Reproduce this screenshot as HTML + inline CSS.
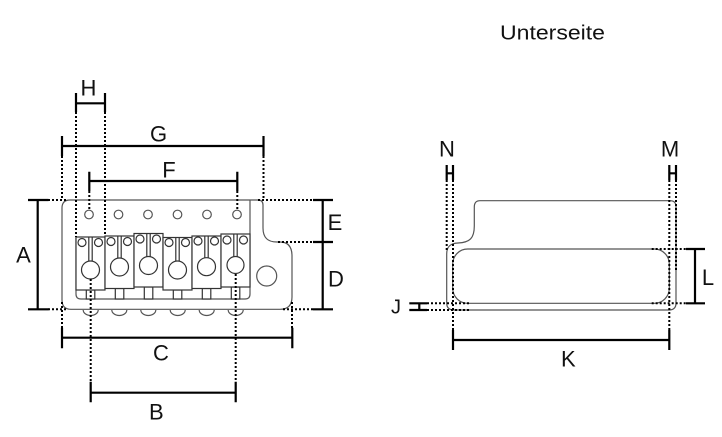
<!DOCTYPE html>
<html><head><meta charset="utf-8"><style>
html,body{margin:0;padding:0;background:#fff;}
svg{display:block;}
text{font-family:"Liberation Sans",Arial,sans-serif;fill:#111;}
</style></head><body>
<svg width="722" height="437" viewBox="0 0 722 437" xmlns="http://www.w3.org/2000/svg">
<rect width="722" height="437" fill="#fff"/>

<!-- ============ LEFT DRAWING ============ -->
<g fill="none" stroke="#555" stroke-width="1.2">
  <path d="M70,200 H258 Q263,200 263,205 V228 C263,238 268,242 277,242 H280 C288,242 292,247 292,256 V297 C292,305 288,309.3 280,309.3 H71 Q62,309.3 62,300 V208 Q62,200 70,200 Z"/>
  <path d="M76,236 V294 Q76,299 81,299 H245 Q250,299 250,294 V200"/>
  <circle cx="89" cy="214.5" r="4.3"/>
  <circle cx="118.5" cy="214.5" r="4.3"/>
  <circle cx="148" cy="214.5" r="4.3"/>
  <circle cx="177.5" cy="214.5" r="4.3"/>
  <circle cx="207" cy="214.5" r="4.3"/>
  <circle cx="237" cy="214.5" r="4.3"/>
  <circle cx="266.7" cy="276" r="10"/>
  <path d="M83.2,310 A7.5,5.5 0 0 0 98.2,310"/>
  <path d="M111.8,310 A7.5,5.5 0 0 0 126.8,310"/>
  <path d="M140.8,310 A7.5,5.5 0 0 0 155.8,310"/>
  <path d="M170.2,310 A7.5,5.5 0 0 0 185.2,310"/>
  <path d="M199.2,310 A7.5,5.5 0 0 0 214.2,310"/>
  <path d="M228.2,310 A7.5,5.5 0 0 0 243.2,310"/>
</g>

<g fill="#fff" stroke="#333" stroke-width="1.2">
  <rect x="86.3" y="290" width="8.5" height="9"/>
  <rect x="76" y="237" width="29" height="53"/>
  <circle cx="82" cy="242.5" r="4"/><circle cx="98.5" cy="242.5" r="4"/>
  <path d="M88.8,237 V261.5 M92.2,237 V261.5" fill="none"/>
  <circle cx="90.5" cy="270" r="9"/>
  <rect x="115.3" y="288.5" width="8.5" height="10.5"/>
  <rect x="105" y="236" width="29" height="52.5"/>
  <circle cx="111" cy="241.5" r="4"/><circle cx="127.5" cy="241.5" r="4"/>
  <path d="M117.8,236 V258.5 M121.2,236 V258.5" fill="none"/>
  <circle cx="119.5" cy="267" r="9"/>
  <rect x="144.3" y="287" width="8.5" height="12"/>
  <rect x="134" y="233.5" width="29" height="53.5"/>
  <circle cx="140" cy="239" r="4"/><circle cx="156.5" cy="239" r="4"/>
  <path d="M146.8,233.5 V257 M150.2,233.5 V257" fill="none"/>
  <circle cx="148.5" cy="265.5" r="9"/>
  <rect x="173.3" y="290" width="8.5" height="9"/>
  <rect x="163" y="237.5" width="29" height="52.5"/>
  <circle cx="169" cy="242.5" r="4"/><circle cx="185.5" cy="242.5" r="4"/>
  <path d="M175.8,237.5 V261 M179.2,237.5 V261" fill="none"/>
  <circle cx="177.5" cy="270" r="9"/>
  <rect x="202.3" y="288.5" width="8.5" height="10.5"/>
  <rect x="192" y="236" width="29" height="52.5"/>
  <circle cx="198" cy="241" r="4"/><circle cx="214.5" cy="241" r="4"/>
  <path d="M204.8,236 V257.7 M208.2,236 V257.7" fill="none"/>
  <circle cx="206.5" cy="266.7" r="9"/>
  <rect x="231.3" y="287" width="8.5" height="12"/>
  <rect x="221" y="234" width="29" height="53"/>
  <circle cx="227" cy="240" r="4"/><circle cx="243.5" cy="240" r="4"/>
  <path d="M233.8,234 V256.5 M237.2,234 V256.5" fill="none"/>
  <circle cx="235.5" cy="265" r="8.5"/>
</g>

<g fill="none" stroke="#000" stroke-width="2" stroke-dasharray="2 2">
  <path d="M76,112 V237"/>
  <path d="M105,112 V236"/>
  <path d="M62,156 V200"/>
  <path d="M263.5,156 V200"/>
  <path d="M89.3,191 V210"/>
  <path d="M237.3,191 V210"/>
  <path d="M90.7,279 V382"/>
  <path d="M235.7,274 V382"/>
  <path d="M62,302 V328"/>
  <path d="M292,302 V328"/>
  <path d="M48,200 H66"/>
  <path d="M48,309.3 H68"/>
  <path d="M258,200 H313"/>
  <path d="M278,242 H313"/>
  <path d="M283,309.3 H313"/>
</g>

<g fill="none" stroke="#000" stroke-width="2.2">
  <path d="M76,93 V112 M105,93 V112 M76,103.3 H105"/>
  <path d="M62,136 V156 M263.5,136 V156 M62,146 H263.5"/>
  <path d="M89.3,171.7 V191 M237.3,171.7 V191 M89.3,181 H237.3"/>
  <path d="M37.7,200 V309.3 M28,200 H48.5 M28,309.3 H48.5"/>
  <path d="M322.7,200 V309.3 M313,200 H333 M313,242 H333 M313,309.3 H333"/>
  <path d="M62,327.7 V348.3 M292.3,327.7 V348.3 M62,337.7 H292.3"/>
  <path d="M90.7,381.7 V402.3 M235.7,381.7 V402.3 M90.7,392.7 H235.7"/>
</g>

<g font-size="22" text-anchor="middle">
  <text x="88.5" y="95.5">H</text>
  <text x="158.5" y="141.7">G</text>
  <text x="169" y="177.3">F</text>
  <text x="23.5" y="262.7">A</text>
  <text x="335" y="230">E</text>
  <text x="336" y="286.7">D</text>
  <text x="161" y="360.7">C</text>
  <text x="156.3" y="419.3">B</text>
</g>

<!-- ============ RIGHT DRAWING ============ -->
<text x="500" y="39.3" font-size="20" textLength="105" lengthAdjust="spacingAndGlyphs">Unterseite</text>

<g fill="none" stroke="#555" stroke-width="1.2">
  <path d="M480,200.7 H670 Q676,200.7 676,206.7 V303 Q676,310 669,310 H454 Q446.7,310 446.7,303 V254 C446.7,247 450,243.3 458,243 C470,242.5 474.3,238 474.3,226 V207 Q474.3,200.7 480,200.7 Z"/>
  <rect x="452.7" y="249" width="216.6" height="54.3" rx="15" ry="15"/>
</g>

<g fill="none" stroke="#000" stroke-width="2" stroke-dasharray="2 2">
  <path d="M446.7,180 V252"/>
  <path d="M453,180 V330"/>
  <path d="M669.3,180 V330"/>
  <path d="M676,180 V270"/>
  <path d="M651.7,249 H686"/>
  <path d="M651.7,303.3 H686"/>
  <path d="M427,303.3 H471"/>
  <path d="M427,310 H471"/>
</g>

<g fill="none" stroke="#000" stroke-width="2.2">
  <path d="M446.7,165 V180 M453,165 V180 M446.7,173.3 H453"/>
  <path d="M669.3,165 V180 M676,165 V180 M669.3,173.3 H676"/>
  <path d="M695,249 V303.3 M686,249 H705 M686,303.3 H705"/>
  <path d="M409.3,303.3 H427 M409.3,310 H427 M419.3,303.3 V310"/>
  <path d="M453,330 V350 M669.3,330 V350 M453,340 H669.3"/>
</g>

<g font-size="22" text-anchor="middle">
  <text x="447" y="156.7">N</text>
  <text x="670" y="156.7">M</text>
  <text x="708" y="285">L</text>
  <text x="568.3" y="366.5">K</text>
</g>
<text x="396" y="313.5" font-size="20" text-anchor="middle">J</text>
</svg>
</body></html>
